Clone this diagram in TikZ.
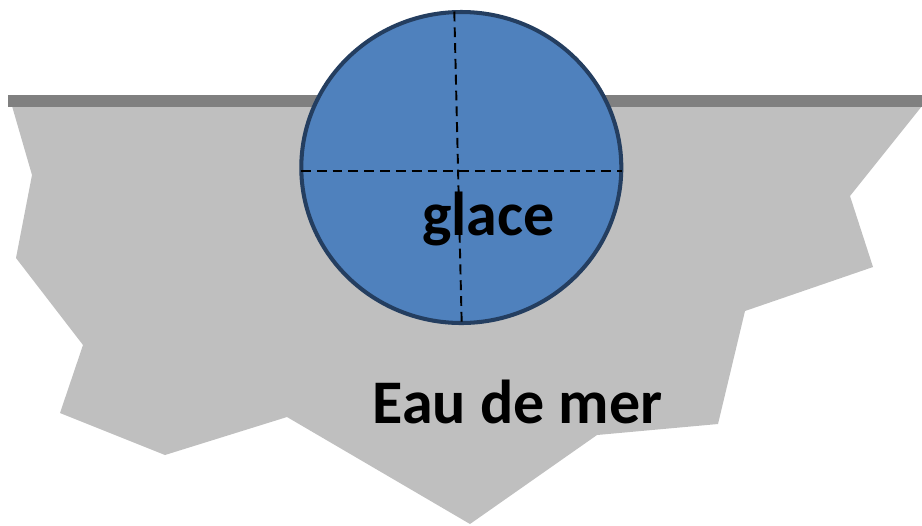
\documentclass[tikz,border=0pt]{standalone}
\usepackage{fontspec}
\setmainfont{Carlito}
\definecolor{SeaGray}{RGB}{191,191,191}
\definecolor{ShoreGray}{RGB}{128,128,128}
\definecolor{IceBlue}{RGB}{79,129,189}
\definecolor{IceEdge}{RGB}{36,62,96}
\usetikzlibrary{positioning}

\begin{document}
\begin{tikzpicture}[x=0.02cm, y=-0.02cm,
        sea/.style={fill=SeaGray, draw=none},
        shore/.style={fill=ShoreGray, draw=none},
        ice/.style={fill=IceBlue, draw=IceEdge, line width=2.3pt},
        axis/.style={black, line width=1.1pt, dash pattern=on 5.6pt off 3.4pt},
        lbl/.style={anchor=base, inner sep=0pt, font=\fontsize{35.3}{40}\selectfont\bfseries}
      ]
        \useasboundingbox (0,0) rectangle (922,525);

        % eau de mer
        \fill[sea] (12,106) -- (32,175) -- (16,258) -- (83,345) -- (60,413)
          -- (165,455) -- (287,417) -- (470,524) -- (597,435) -- (718,424)
          -- (745,311) -- (873,267) -- (850,196) -- (922,106) -- cycle;
        \fill[shore] (8,94.5) rectangle (922,106.5);

        % glace
        \coordinate (c) at (461.3,167.5);
        \draw[ice] (c) ellipse [x radius=160, y radius=155.5];
        \coordinate (top) at (454.3,11.5);
        \coordinate (bot) at (461.7,323.5);
        \coordinate (west) at (301,170.7);
        \coordinate (east) at (621.5,170.7);
        \draw[axis] (top) -- (bot);
        \draw[axis] (west) -- (east);

        \node[lbl] (glace) at (488.3,235) {glace};
        \node[lbl] (eau) at (517.5,423) {Eau de mer};
      \end{tikzpicture}
\end{document}
